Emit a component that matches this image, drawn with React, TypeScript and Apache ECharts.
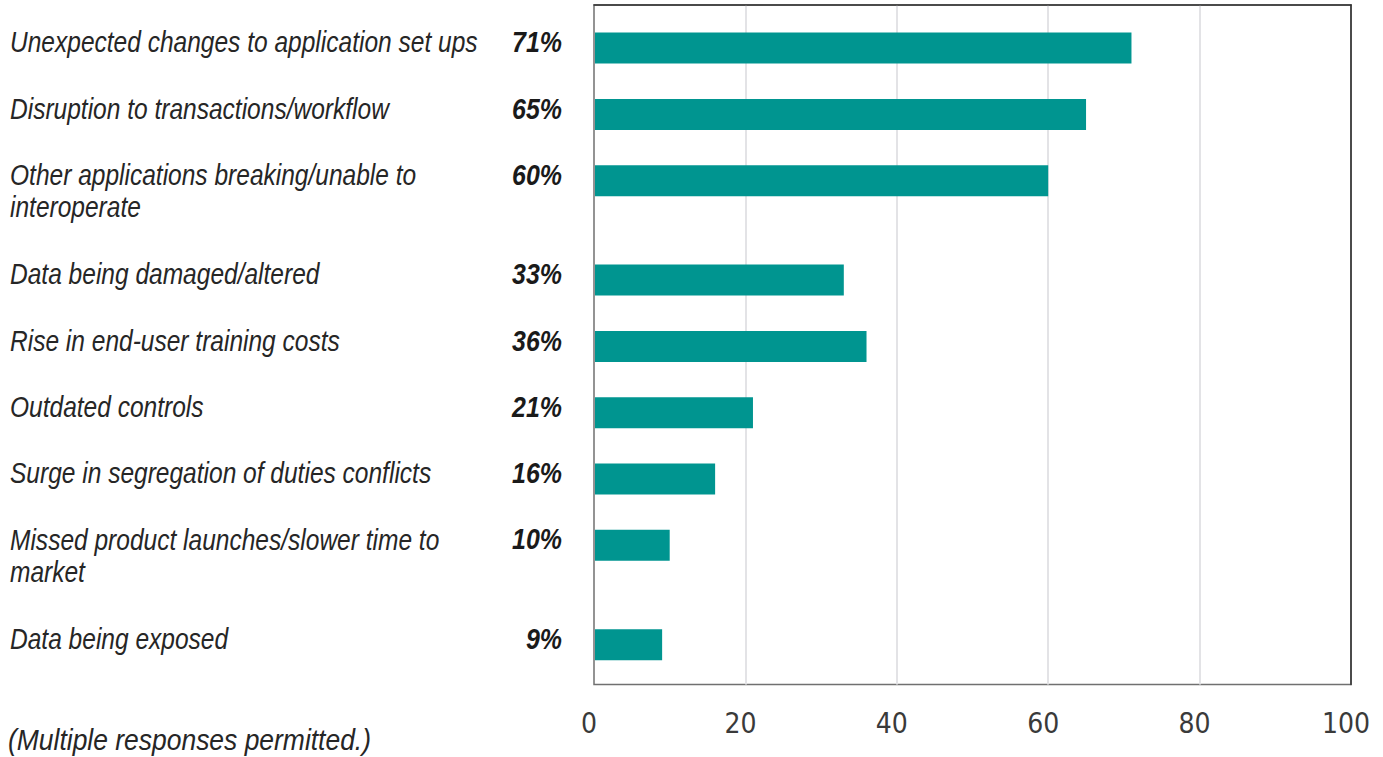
import React, { useEffect, useRef } from "react";
import * as echarts from "echarts";

const categories: string[] = [
  "Unexpected changes to application set ups",
  "Disruption to transactions/workflow",
  "Other applications breaking/unable to\ninteroperate",
  "Data being damaged/altered",
  "Rise in end-user training costs",
  "Outdated controls",
  "Surge in segregation of duties conflicts",
  "Missed product launches/slower time to\nmarket",
  "Data being exposed",
];
const values: number[] = [71, 65, 60, 33, 36, 21, 16, 10, 9];
const xTicks: number[] = [0, 20, 40, 60, 80, 100];
const footnote = "(Multiple responses permitted.)";

// layout / style constants
const TEXT_FONT = "'Liberation Sans', Arial, sans-serif";
const AXIS_FONT = "'DejaVu Sans Condensed', 'Liberation Sans Narrow', sans-serif";
const BAR_COLOR = "#009590";
const BAR_H = 31;
const LABEL_X = 10;
const PCT_X = 562;
const LINE_H = 32.5;
const TEXT_DY = -5.5;
const ROW_START = 1.3;
const ROW_UNITS_SINGLE = 2;
const ROW_UNITS_DOUBLE = 3;
const Y_MAX = 20.5;
const LABEL_SIZE = 29;
const PCT_SIZE = 29;
const NOTE_SIZE = 29;
const LABEL_TARGET_W = 468; // width of the longest one-line label in the reference
const PCT_TARGET_W = 50;
const NOTE_TARGET_W = 363;

function measure(text: string, font: string): number {
  const c = document.createElement("canvas");
  const ctx = c.getContext("2d");
  if (!ctx) return 1;
  ctx.font = font;
  return ctx.measureText(text).width || 1;
}

export default function App() {
  const ref = useRef<HTMLDivElement>(null);
  useEffect(() => {
    document.body.style.margin = "0";
    if (!ref.current) return;
    const chart = echarts.init(ref.current, undefined, { renderer: "svg" });

    const labelScale =
      LABEL_TARGET_W / measure(categories[0], `italic normal ${LABEL_SIZE}px ${TEXT_FONT}`);
    const pctScale = PCT_TARGET_W / measure("71%", `italic bold ${PCT_SIZE}px ${TEXT_FONT}`);
    const noteScale = NOTE_TARGET_W / measure(footnote, `italic normal ${NOTE_SIZE}px ${TEXT_FONT}`);

    // row positions derived from the number of label lines
    const rowPos: number[] = [];
    let p = ROW_START;
    categories.forEach((c) => {
      rowPos.push(p);
      p += c.split("\n").length > 1 ? ROW_UNITS_DOUBLE : ROW_UNITS_SINGLE;
    });
    const data = values.map((v, i) => [v, rowPos[i], i]);

    chart.setOption({
      animation: false,
      grid: {
        left: 594,
        top: 5,
        width: 757,
        height: 679.5,
        show: true,
        borderColor: "#707070",
        borderWidth: 1.5,
        backgroundColor: "#fff",
      },
      xAxis: {
        type: "value",
        min: xTicks[0],
        max: xTicks[xTicks.length - 1],
        interval: xTicks[1] - xTicks[0],
        axisLine: { show: true, lineStyle: { color: "#333", width: 1.5 } },
        axisTick: { show: false },
        splitLine: {
          show: true,
          showMinLine: false,
          showMaxLine: false,
          lineStyle: { color: "#e3e3e6", width: 2 },
        },
        axisLabel: {
          fontFamily: AXIS_FONT,
          fontSize: 28,
          color: "#3a3a3a",
          margin: 25,
          padding: [0, 10, 0, 0],
        },
      },
      yAxis: [
        {
          type: "value",
          inverse: true,
          min: 0,
          max: Y_MAX,
          axisLine: { show: false },
          axisTick: { show: false },
          axisLabel: { show: false },
          splitLine: { show: false },
        },
        {
          type: "value",
          position: "right",
          inverse: true,
          min: 0,
          max: Y_MAX,
          axisLine: { show: true, lineStyle: { color: "#333", width: 1.5 } },
          axisTick: { show: false },
          axisLabel: { show: false },
          splitLine: { show: false },
        },
      ],
      series: [
        {
          type: "custom",
          clip: false,
          xAxisIndex: 0,
          yAxisIndex: 0,
          data,
          renderItem: (params: any, api: any) => {
            const v = api.value(0);
            const pos = api.value(1);
            const idx = api.value(2);
            const s = api.coord([0, pos]);
            const e = api.coord([v, pos]);
            const lines = categories[idx].split("\n");
            const children: any[] = [
              {
                type: "rect",
                shape: { x: s[0] + 1, y: s[1] - BAR_H / 2, width: e[0] - s[0] - 1, height: BAR_H },
                style: { fill: BAR_COLOR },
              },
            ];
            lines.forEach((ln, j) => {
              children.push({
                type: "text",
                x: LABEL_X,
                y: s[1] + TEXT_DY + j * LINE_H,
                scaleX: labelScale,
                style: {
                  text: ln,
                  fontFamily: TEXT_FONT,
                  fontSize: LABEL_SIZE,
                  fontStyle: "italic",
                  fill: "#262626",
                  align: "left",
                  verticalAlign: "middle",
                },
              });
            });
            children.push({
              type: "text",
              x: PCT_X,
              y: s[1] + TEXT_DY,
              scaleX: pctScale,
              style: {
                text: v + "%",
                fontFamily: TEXT_FONT,
                fontSize: PCT_SIZE,
                fontStyle: "italic",
                fontWeight: "bold",
                fill: "#1a1a1a",
                align: "right",
                verticalAlign: "middle",
              },
            });
            return { type: "group", children };
          },
        },
      ],
      graphic: [
        {
          type: "text",
          x: 8,
          y: 740,
          scaleX: noteScale,
          style: {
            text: footnote,
            fontFamily: TEXT_FONT,
            fontSize: NOTE_SIZE,
            fontStyle: "italic",
            fill: "#262626",
            align: "left",
            verticalAlign: "middle",
          },
        },
      ],
    });
    return () => chart.dispose();
  }, []);
  return (
    <div
      ref={ref}
      style={{ position: "absolute", left: 0, top: 0, width: 1383, height: 757, background: "#fff" }}
    />
  );
}
